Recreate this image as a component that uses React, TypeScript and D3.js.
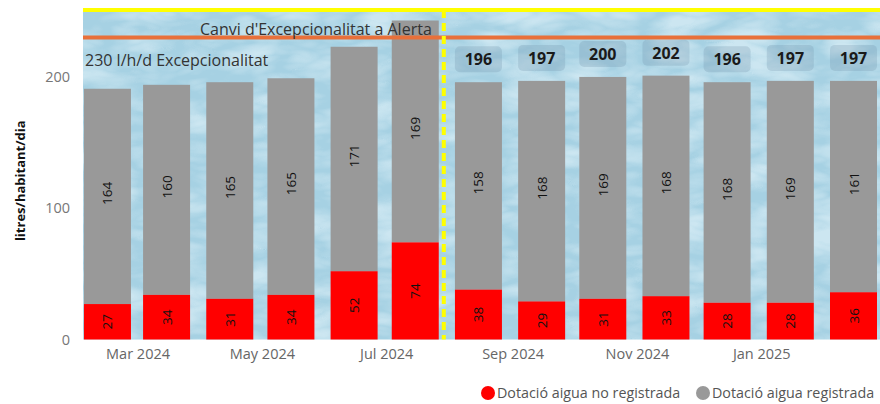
import React from "react";
import * as d3 from "d3";

const months = ["2024-02","2024-03","2024-04","2024-05","2024-06","2024-07","2024-08","2024-09","2024-10","2024-11","2024-12","2025-01","2025-02"];
const noRegistrada = [27, 34, 31, 34, 52, 74, 38, 29, 31, 33, 28, 28, 36];
const registrada = [164, 160, 165, 165, 171, 169, 158, 168, 169, 168, 168, 169, 161];
const totalLabels: (number | null)[] = [null, null, null, null, null, null, 196, 197, 200, 202, 196, 197, 197];
const yTicks = [0, 100, 200];
const excepLine = 230;
const topLine = 251;
const changeDate = "2024-07-29";
const legendItems = [
  { label: "Dotació aigua no registrada", color: "#FF0000" },
  { label: "Dotació aigua registrada", color: "#999999" },
];

const W = 880, H = 404;
const FONT = "'Open Sans', 'Segoe UI', sans-serif";

export default function App() {
  const parse = d3.timeParse("%Y-%m-%d");
  const dates = months.map((m) => parse(m + "-15") as Date);
  const x = d3.scaleTime()
    .domain([parse("2024-02-03") as Date, parse("2025-02-28") as Date])
    .range([83, 880]);
  const y = d3.scaleLinear().domain([0, topLine]).range([339.5, 10]);
  const bw = 47;
  const ticks = [2024, 2024, 2024, 2024, 2024, 2025].map((yr, i) => new Date(yr, [2, 4, 6, 8, 10, 0][i], 1));
  const fmt = d3.timeFormat("%b %Y");
  const [x0, x1] = x.range();
  const cx = x(parse(changeDate) as Date);

  return (
    <svg width={W} height={H} style={{ display: "block", position: "absolute", left: 0, top: 0 }} fontFamily={FONT}>
      <defs>
        <filter id="water" x="0" y="0" width="100%" height="100%">
          <feTurbulence type="turbulence" baseFrequency="0.014 0.035" numOctaves="3" seed="7" result="n" />
          <feColorMatrix in="n" type="matrix" values="0 0 0 0 0.84  0 0 0 0 0.94  0 0 0 0 0.98  1.9 0 0 0 -0.2" />
        </filter>
      </defs>
      <rect x={x0} y={y(topLine)} width={x1 - x0} height={y(0) - y(topLine)} fill="#a6d1e3" />
      <rect x={x0} y={y(topLine)} width={x1 - x0} height={y(0) - y(topLine)} filter="url(#water)" opacity={0.55} />

      {/* y axis */}
      {yTicks.map((t) => (
        <text key={t} x={70} y={y(t) + 5} textAnchor="end" fontSize={14.5} fill="#777">{t}</text>
      ))}
      <text transform={`translate(25,${(y(0) + y(topLine)) / 2 + 6}) rotate(-90)`} textAnchor="middle" fontSize={13} fontWeight="bold" fill="#111">litres/habitant/dia</text>

      {/* x axis */}
      {ticks.map((t, i) => (
        <text key={i} x={x(t)} y={359} textAnchor="middle" fontSize={14.5} fill="#666">{fmt(t)}</text>
      ))}

      {/* bars */}
      {dates.map((d, i) => {
        const bx = x(d) - bw / 2;
        const r = noRegistrada[i], g = registrada[i];
        const yr = y(r), yt = y(r + g);
        return (
          <g key={i}>
            <rect x={bx} y={yt} width={bw} height={yr - yt} fill="#999999" />
            <rect x={bx} y={yr} width={bw} height={y(0) - yr} fill="#FF0000" />
            <text transform={`translate(${x(d) + 5},${(yr + yt) / 2 - 3}) rotate(-90)`} textAnchor="middle" fontSize={13.5} fill="#111">{g}</text>
            <text transform={`translate(${x(d) + 5},${(y(0) + yr) / 2}) rotate(-90)`} textAnchor="middle" fontSize={13.5} fill="#111">{r}</text>
            {totalLabels[i] != null && (
              <g>
                <rect x={bx} y={yt - 36} width={bw} height={26} rx={5} fill="#6f90a6" fillOpacity={0.25} />
                <text x={x(d)} y={yt - 17} textAnchor="middle" fontSize={16} fontWeight="bold" fill="#1a1a1a">{totalLabels[i]}</text>
              </g>
            )}
          </g>
        );
      })}

      {/* reference lines */}
      <line x1={x0} x2={x1} y1={y(topLine)} y2={y(topLine)} stroke="#FFFF00" strokeWidth={4} />
      <line x1={x0} x2={x1} y1={y(excepLine)} y2={y(excepLine)} stroke="#E8703A" strokeWidth={4} />
      <line x1={cx} x2={cx} y1={y(topLine)} y2={y(0)} stroke="#FFFF00" strokeWidth={4} strokeDasharray="8 5" />
      <text x={cx - 12} y={y(excepLine) - 3} textAnchor="end" fontSize={16} fill="#333">Canvi d'Excepcionalitat a Alerta</text>
      <text x={85} y={y(excepLine) + 28} fontSize={16} fill="#333">{excepLine} l/h/d Excepcionalitat</text>

      {/* legend */}
      {legendItems.map((it, i) => {
        const gx = [481, 696][i];
        return (
          <g key={i}>
            <circle cx={gx + 7} cy={393} r={7} fill={it.color} />
            <text x={gx + 16} y={398} fontSize={14.3} fill="#555">{it.label}</text>
          </g>
        );
      })}
    </svg>
  );
}
